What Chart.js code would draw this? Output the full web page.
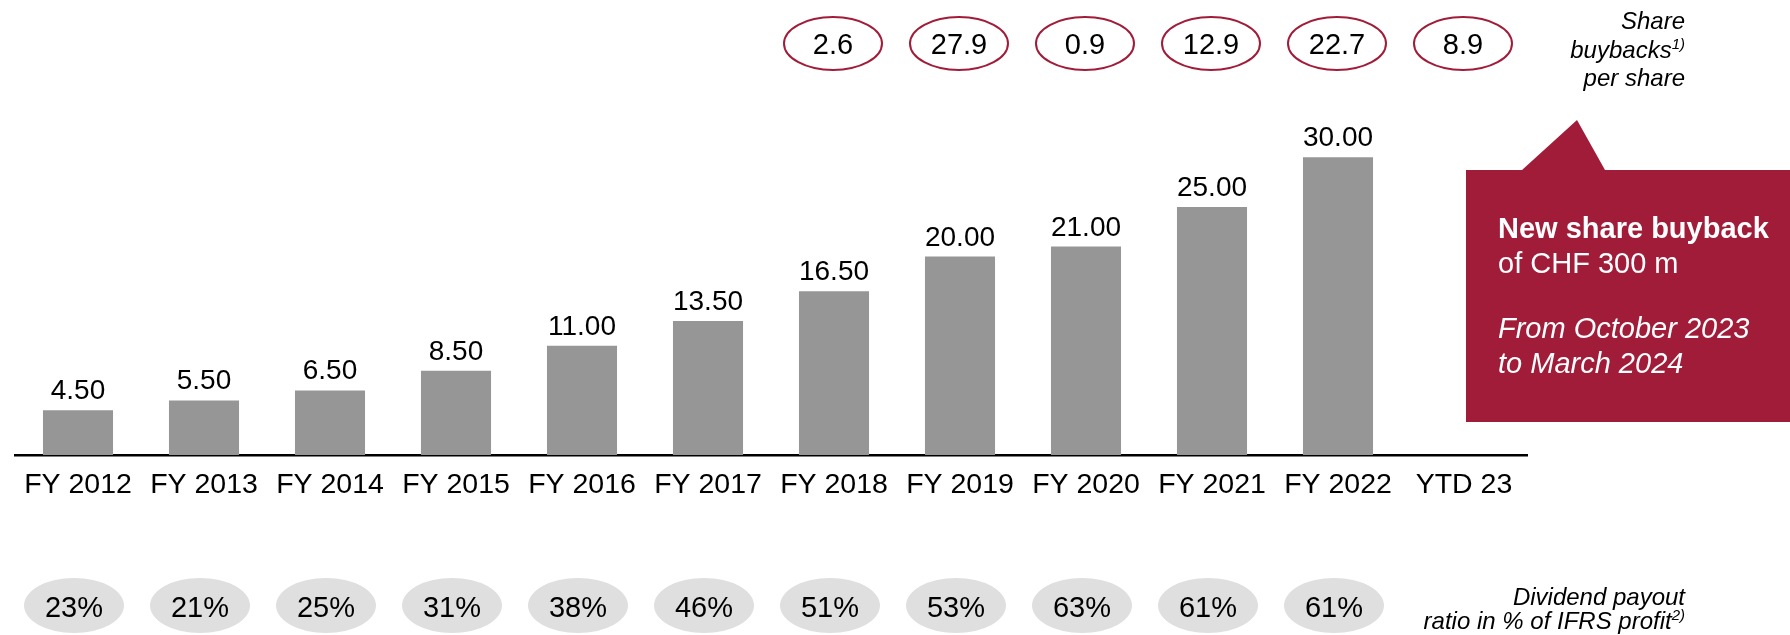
<!DOCTYPE html>
<html>
<head>
<meta charset="utf-8">
<script src="https://cdn.jsdelivr.net/npm/chart.js@4"></script>
<style>
  body { margin: 0; background: #fff; }
</style>
</head>
<body>
<canvas id="dividendChart" width="1790" height="635"></canvas>
<script>
const categories = ["FY 2012", "FY 2013", "FY 2014", "FY 2015", "FY 2016", "FY 2017",
    "FY 2018", "FY 2019", "FY 2020", "FY 2021", "FY 2022", "YTD 23"];
const dividends = [4.5, 5.5, 6.5, 8.5, 11, 13.5, 16.5, 20, 21, 25, 30, null];
const buybacks = [null, null, null, null, null, null, 2.6, 27.9, 0.9, 12.9, 22.7, 8.9];
const payoutRatio = [23, 21, 25, 31, 38, 46, 51, 53, 63, 61, 61, null];

const FONT = '"Liberation Sans", Arial, sans-serif';
const RED = "#A11C38";

// labels, ellipses and the callout box
const extrasPlugin = {
    id: "extras",
    afterDatasetsDraw(chart) {
        const ctx = chart.ctx;
        const xs = chart.scales.x;
        const bars = chart.getDatasetMeta(0).data;
        ctx.save();

        // value labels above the bars
        ctx.fillStyle = "#000";
        ctx.font = "28px " + FONT;
        ctx.textAlign = "center";
        ctx.textBaseline = "alphabetic";
        dividends.forEach((v, i) => {
            if (v == null) return;
            ctx.fillText(v.toFixed(2), bars[i].x, bars[i].y - 11);
        });

        // share buybacks per share (red outlined ellipses)
        buybacks.forEach((v, i) => {
            if (v == null) return;
            const x = xs.getPixelForValue(i) - 1;
            ctx.beginPath();
            ctx.ellipse(x, 43.5, 49, 26.5, 0, 0, Math.PI * 2);
            ctx.lineWidth = 2;
            ctx.strokeStyle = RED;
            ctx.stroke();
            ctx.fillStyle = "#000";
            ctx.font = "29px " + FONT;
            ctx.fillText(v.toFixed(1), x, 53.5);
        });

        // dividend payout ratio (grey ellipses)
        payoutRatio.forEach((v, i) => {
            if (v == null) return;
            const x = xs.getPixelForValue(i) - 4;
            ctx.beginPath();
            ctx.ellipse(x, 605.5, 50, 27.5, 0, 0, Math.PI * 2);
            ctx.fillStyle = "#DFDFDF";
            ctx.fill();
            ctx.fillStyle = "#000";
            ctx.font = "29px " + FONT;
            ctx.fillText(v + "%", x, 617);
        });

        // right side captions
        ctx.textAlign = "right";
        ctx.fillStyle = "#000";
        function lineWithSup(text, sup, xRight, y, size) {
            ctx.font = "italic " + Math.round(size * 0.62) + "px " + FONT;
            const sw = ctx.measureText(sup).width;
            ctx.fillText(sup, xRight, y - size * 0.38);
            ctx.font = "italic " + size + "px " + FONT;
            ctx.fillText(text, xRight - sw, y);
        }
        ctx.font = "italic 24px " + FONT;
        ctx.fillText("Share", 1685, 29);
        lineWithSup("buybacks", "1)", 1685, 58, 24);
        ctx.font = "italic 24px " + FONT;
        ctx.fillText("per share", 1685, 86);

        ctx.font = "italic 24px " + FONT;
        ctx.fillText("Dividend payout", 1685, 605);
        lineWithSup("ratio in % of IFRS profit", "2)", 1685, 629, 24);

        // callout box
        ctx.fillStyle = RED;
        ctx.beginPath();
        ctx.moveTo(1466, 170);
        ctx.lineTo(1522, 170);
        ctx.lineTo(1577, 120);
        ctx.lineTo(1605, 170);
        ctx.lineTo(1790, 170);
        ctx.lineTo(1790, 422);
        ctx.lineTo(1466, 422);
        ctx.closePath();
        ctx.fill();

        ctx.fillStyle = "#fff";
        ctx.textAlign = "left";
        ctx.font = "bold 29px " + FONT;
        ctx.fillText("New share buyback", 1498, 238);
        ctx.font = "29px " + FONT;
        ctx.fillText("of CHF 300 m", 1498, 273);
        ctx.font = "italic 29px " + FONT;
        ctx.fillText("From October 2023", 1498, 338);
        ctx.fillText("to March 2024", 1498, 373);

        ctx.restore();
    }
};

new Chart(document.getElementById("dividendChart").getContext("2d"), {
    type: "bar",
    data: {
        labels: categories,
        datasets: [{
            label: "Dividend per share",
            data: dividends,
            backgroundColor: "#969696",
            categoryPercentage: 1,
            barPercentage: 0.556
        }]
    },
    options: {
        responsive: false,
        animation: false,
        layout: {
            padding: { left: 15, right: 263, top: 58, bottom: 0 }
        },
        plugins: {
            legend: { display: false },
            tooltip: { enabled: false }
        },
        scales: {
            x: {
                grid: { display: false, drawTicks: false },
                border: { display: true, color: "#000", width: 2.5 },
                ticks: {
                    color: "#000",
                    font: { size: 28.5, family: FONT },
                    padding: 13,
                    maxRotation: 0,
                    autoSkip: false
                },
                afterFit(scale) {
                    scale.height = 180;
                }
            },
            y: {
                display: false,
                min: 0,
                max: 40
            }
        }
    },
    plugins: [extrasPlugin]
});
</script>
</body>
</html>
